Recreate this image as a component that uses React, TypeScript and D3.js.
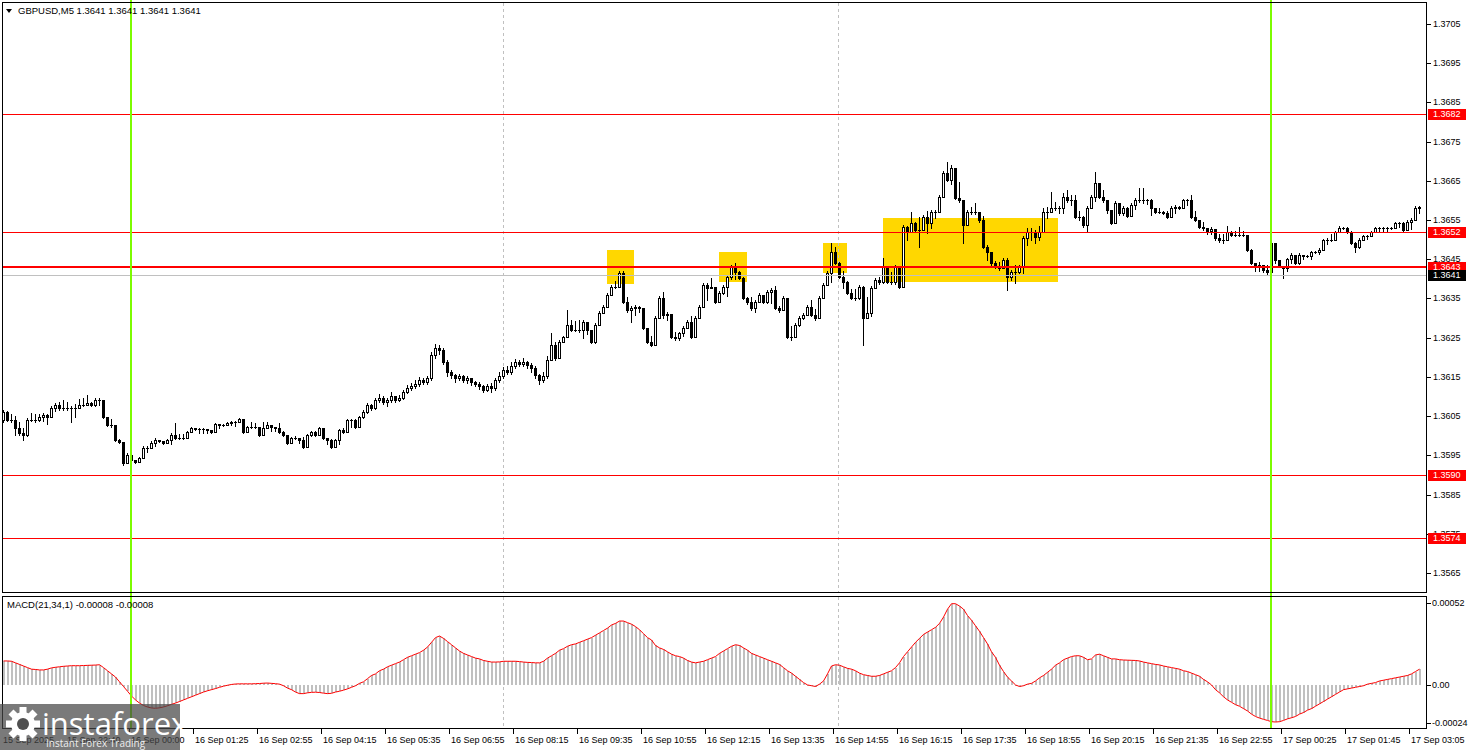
import React from 'react';
import * as d3 from 'd3';

const W = 1468, H = 750;
const FONT = "'Liberation Sans', Arial, sans-serif";

const firstOpen = 1.36040;
const closes = [
1.36060,1.36040,1.36040,1.36020,1.36007,1.36002,1.36040,1.36040,1.36040,1.36048,
1.36053,1.36048,1.36071,1.36078,1.36071,1.36071,1.36071,1.36071,1.36071,1.36078,
1.36078,1.36083,1.36078,1.36091,1.36091,1.36048,1.36027,1.36027,1.35989,1.35984,
1.35930,1.35951,1.35938,1.35933,1.35943,1.35969,1.35969,1.35981,1.35989,1.35986,
1.35981,1.35989,1.36002,1.35994,1.35994,1.35994,1.36009,1.36020,1.36017,1.36017,
1.36017,1.36014,1.36009,1.36030,1.36027,1.36027,1.36032,1.36035,1.36035,1.36043,
1.36009,1.36022,1.36022,1.36022,1.36002,1.36020,1.36027,1.36022,1.36020,1.36009,
1.36002,1.35981,1.35994,1.35994,1.35989,1.35971,1.36002,1.36009,1.36002,1.36020,
1.35994,1.35989,1.35971,1.35989,1.36014,1.36009,1.36040,1.36040,1.36022,1.36048,
1.36060,1.36078,1.36071,1.36091,1.36096,1.36086,1.36091,1.36101,1.36091,1.36096,
1.36111,1.36122,1.36127,1.36132,1.36142,1.36137,1.36147,1.36206,1.36224,1.36219,
1.36188,1.36162,1.36155,1.36147,1.36152,1.36142,1.36147,1.36137,1.36132,1.36127,
1.36117,1.36127,1.36122,1.36142,1.36152,1.36168,1.36162,1.36178,1.36188,1.36183,
1.36188,1.36180,1.36173,1.36155,1.36142,1.36152,1.36193,1.36231,1.36198,1.36239,
1.36252,1.36282,1.36270,1.36270,1.36270,1.36290,1.36270,1.36239,1.36282,1.36313,
1.36328,1.36359,1.36379,1.36379,1.36415,1.36341,1.36321,1.36326,1.36328,1.36326,
1.36275,1.36239,1.36231,1.36300,1.36351,1.36308,1.36310,1.36252,1.36249,1.36262,
1.36275,1.36290,1.36252,1.36300,1.36328,1.36384,1.36377,1.36379,1.36341,1.36364,
1.36379,1.36405,1.36430,1.36417,1.36402,1.36351,1.36341,1.36326,1.36341,1.36359,
1.36341,1.36366,1.36372,1.36326,1.36321,1.36351,1.36252,1.36252,1.36282,1.36300,
1.36308,1.36328,1.36308,1.36300,1.36351,1.36384,1.36415,1.36468,1.36440,1.36405,
1.36392,1.36364,1.36351,1.36351,1.36379,1.36300,1.36313,1.36377,1.36397,1.36392,
1.36430,1.36392,1.36392,1.36430,1.36379,1.36532,1.36519,1.36542,1.36524,1.36524,
1.36558,1.36542,1.36570,1.36570,1.36609,1.36670,1.36652,1.36683,1.36606,1.36601,
1.36537,1.36570,1.36570,1.36570,1.36550,1.36481,1.36468,1.36440,1.36430,1.36428,
1.36448,1.36405,1.36417,1.36417,1.36430,1.36504,1.36519,1.36519,1.36507,1.36519,
1.36570,1.36570,1.36580,1.36580,1.36580,1.36609,1.36601,1.36601,1.36558,1.36558,
1.36537,1.36580,1.36609,1.36644,1.36609,1.36601,1.36575,1.36542,1.36593,1.36568,
1.36580,1.36560,1.36588,1.36601,1.36601,1.36601,1.36601,1.36580,1.36570,1.36570,
1.36568,1.36558,1.36580,1.36583,1.36580,1.36601,1.36601,1.36558,1.36550,1.36532,
1.36529,1.36522,1.36527,1.36504,1.36499,1.36499,1.36519,1.36512,1.36512,1.36512,
1.36512,1.36473,1.36440,1.36433,1.36435,1.36422,1.36417,1.36491,1.36448,1.36433,
1.36428,1.36451,1.36461,1.36440,1.36461,1.36458,1.36458,1.36468,1.36468,1.36473,
1.36499,1.36499,1.36499,1.36519,1.36529,1.36529,1.36519,1.36491,1.36481,1.36499,
1.36509,1.36509,1.36519,1.36529,1.36529,1.36529,1.36529,1.36529,1.36542,1.36542,
1.36524,1.36545,1.36550,1.36580,1.36583
];
const highs = [
1.36066,1.36063,1.36055,1.36050,1.36035,1.36020,1.36045,1.36058,1.36055,1.36055,
1.36058,1.36055,1.36076,1.36083,1.36086,1.36091,1.36086,1.36076,1.36081,1.36094,
1.36096,1.36104,1.36086,1.36096,1.36096,1.36091,1.36045,1.36043,1.36022,1.35992,
1.35984,1.35956,1.35964,1.35935,1.35946,1.35974,1.35974,1.35986,1.35994,1.35989,
1.35984,1.35992,1.36007,1.36032,1.36004,1.36004,1.36012,1.36022,1.36020,1.36020,
1.36020,1.36017,1.36012,1.36032,1.36030,1.36030,1.36035,1.36037,1.36037,1.36045,
1.36022,1.36025,1.36035,1.36032,1.36012,1.36035,1.36035,1.36025,1.36022,1.36032,
1.36012,1.35997,1.35997,1.35999,1.35992,1.35997,1.36004,1.36012,1.36012,1.36022,
1.36012,1.35992,1.35992,1.35992,1.36017,1.36020,1.36043,1.36043,1.36043,1.36050,
1.36066,1.36083,1.36081,1.36096,1.36106,1.36101,1.36096,1.36111,1.36101,1.36104,
1.36117,1.36129,1.36134,1.36142,1.36150,1.36147,1.36152,1.36213,1.36234,1.36231,
1.36224,1.36193,1.36168,1.36157,1.36157,1.36155,1.36152,1.36147,1.36139,1.36137,
1.36129,1.36132,1.36134,1.36147,1.36162,1.36175,1.36178,1.36188,1.36196,1.36193,
1.36198,1.36190,1.36185,1.36178,1.36157,1.36162,1.36203,1.36262,1.36239,1.36244,
1.36254,1.36321,1.36295,1.36292,1.36295,1.36295,1.36285,1.36264,1.36287,1.36318,
1.36333,1.36364,1.36384,1.36394,1.36420,1.36420,1.36354,1.36331,1.36333,1.36331,
1.36318,1.36264,1.36254,1.36305,1.36356,1.36366,1.36315,1.36295,1.36264,1.36264,
1.36280,1.36295,1.36305,1.36305,1.36333,1.36389,1.36389,1.36402,1.36374,1.36369,
1.36384,1.36410,1.36435,1.36440,1.36420,1.36405,1.36354,1.36354,1.36346,1.36364,
1.36354,1.36372,1.36377,1.36382,1.36331,1.36356,1.36305,1.36280,1.36287,1.36305,
1.36313,1.36333,1.36346,1.36323,1.36356,1.36389,1.36420,1.36491,1.36481,1.36443,
1.36420,1.36394,1.36374,1.36374,1.36384,1.36382,1.36354,1.36382,1.36402,1.36405,
1.36453,1.36428,1.36417,1.36435,1.36428,1.36537,1.36535,1.36570,1.36545,1.36558,
1.36562,1.36573,1.36575,1.36575,1.36614,1.36675,1.36698,1.36690,1.36672,1.36647,
1.36591,1.36575,1.36583,1.36593,1.36565,1.36560,1.36486,1.36463,1.36445,1.36443,
1.36453,1.36453,1.36422,1.36435,1.36435,1.36509,1.36529,1.36529,1.36524,1.36535,
1.36580,1.36583,1.36621,1.36596,1.36586,1.36619,1.36626,1.36614,1.36614,1.36573,
1.36560,1.36586,1.36614,1.36672,1.36636,1.36626,1.36596,1.36573,1.36598,1.36586,
1.36586,1.36583,1.36593,1.36606,1.36632,1.36632,1.36603,1.36603,1.36578,1.36580,
1.36573,1.36573,1.36586,1.36588,1.36586,1.36603,1.36603,1.36614,1.36573,1.36545,
1.36545,1.36527,1.36532,1.36524,1.36514,1.36514,1.36535,1.36522,1.36522,1.36532,
1.36522,1.36499,1.36476,1.36440,1.36443,1.36435,1.36435,1.36494,1.36486,1.36435,
1.36433,1.36453,1.36466,1.36458,1.36466,1.36461,1.36461,1.36471,1.36471,1.36479,
1.36501,1.36504,1.36514,1.36522,1.36535,1.36532,1.36532,1.36522,1.36494,1.36504,
1.36512,1.36512,1.36522,1.36532,1.36532,1.36532,1.36532,1.36532,1.36545,1.36545,
1.36545,1.36550,1.36555,1.36586,1.36586
];
const lows = [
1.36035,1.36037,1.36035,1.36002,1.36002,1.35989,1.35999,1.36037,1.36035,1.36037,
1.36037,1.36030,1.36055,1.36063,1.36066,1.36066,1.36066,1.36035,1.36048,1.36076,
1.36076,1.36078,1.36076,1.36076,1.36078,1.36045,1.36025,1.36022,1.35986,1.35981,
1.35925,1.35933,1.35933,1.35930,1.35941,1.35948,1.35958,1.35969,1.35974,1.35984,
1.35979,1.35986,1.35979,1.35992,1.35992,1.35992,1.36004,1.36017,1.36014,1.36007,
1.36007,1.36007,1.36007,1.36020,1.36020,1.36025,1.36030,1.36027,1.36025,1.36040,
1.36007,1.36020,1.36020,1.36020,1.35999,1.36007,1.36020,1.36012,1.36012,1.36007,
1.35999,1.35979,1.35992,1.35992,1.35981,1.35969,1.35979,1.35999,1.35999,1.36009,
1.35992,1.35979,1.35969,1.35979,1.35979,1.36007,1.36022,1.36022,1.36020,1.36037,
1.36045,1.36058,1.36066,1.36068,1.36086,1.36081,1.36076,1.36086,1.36086,1.36088,
1.36094,1.36109,1.36117,1.36122,1.36127,1.36132,1.36132,1.36142,1.36198,1.36208,
1.36183,1.36152,1.36147,1.36137,1.36142,1.36137,1.36134,1.36129,1.36127,1.36119,
1.36111,1.36114,1.36111,1.36117,1.36137,1.36147,1.36157,1.36157,1.36173,1.36178,
1.36178,1.36173,1.36162,1.36147,1.36132,1.36137,1.36147,1.36198,1.36193,1.36206,
1.36244,1.36259,1.36267,1.36267,1.36264,1.36249,1.36259,1.36236,1.36236,1.36282,
1.36313,1.36333,1.36366,1.36377,1.36387,1.36338,1.36315,1.36290,1.36308,1.36315,
1.36272,1.36236,1.36229,1.36231,1.36300,1.36300,1.36295,1.36249,1.36244,1.36244,
1.36254,1.36280,1.36249,1.36280,1.36308,1.36336,1.36346,1.36377,1.36338,1.36346,
1.36361,1.36356,1.36400,1.36400,1.36400,1.36349,1.36336,1.36321,1.36315,1.36346,
1.36338,1.36338,1.36338,1.36323,1.36315,1.36331,1.36249,1.36244,1.36254,1.36280,
1.36298,1.36308,1.36305,1.36295,1.36300,1.36356,1.36387,1.36392,1.36438,1.36402,
1.36377,1.36361,1.36349,1.36346,1.36349,1.36231,1.36305,1.36305,1.36379,1.36387,
1.36389,1.36389,1.36387,1.36387,1.36377,1.36422,1.36499,1.36529,1.36522,1.36481,
1.36529,1.36517,1.36529,1.36555,1.36575,1.36619,1.36649,1.36642,1.36603,1.36596,
1.36491,1.36550,1.36565,1.36565,1.36545,1.36479,1.36448,1.36435,1.36428,1.36422,
1.36435,1.36372,1.36397,1.36389,1.36415,1.36415,1.36486,1.36499,1.36491,1.36499,
1.36524,1.36555,1.36570,1.36575,1.36568,1.36568,1.36596,1.36588,1.36555,1.36550,
1.36532,1.36522,1.36583,1.36598,1.36606,1.36596,1.36568,1.36540,1.36562,1.36562,
1.36562,1.36558,1.36565,1.36578,1.36596,1.36593,1.36591,1.36562,1.36568,1.36568,
1.36565,1.36555,1.36560,1.36568,1.36578,1.36588,1.36588,1.36555,1.36547,1.36529,
1.36524,1.36514,1.36514,1.36499,1.36494,1.36491,1.36509,1.36509,1.36509,1.36509,
1.36509,1.36471,1.36438,1.36420,1.36420,1.36417,1.36410,1.36417,1.36440,1.36430,
1.36402,1.36420,1.36440,1.36438,1.36438,1.36451,1.36456,1.36451,1.36466,1.36463,
1.36486,1.36489,1.36496,1.36509,1.36524,1.36527,1.36517,1.36489,1.36468,1.36479,
1.36501,1.36501,1.36509,1.36522,1.36522,1.36522,1.36522,1.36527,1.36532,1.36532,
1.36522,1.36527,1.36527,1.36565,1.36568
];
const macd = [
15.2e-5,15.2e-5,15e-5,14e-5,13e-5,12e-5,11e-5,10e-5,9.8e-5,9.5e-5,
9.5e-5,10e-5,10.8e-5,11.2e-5,11.5e-5,11.8e-5,12e-5,12.2e-5,12.2e-5,12.2e-5,
12.3e-5,12.4e-5,12.5e-5,12.6e-5,12.8e-5,11e-5,9e-5,7e-5,5e-5,2e-5,
-1e-5,-4e-5,-7e-5,-9.5e-5,-11.5e-5,-13e-5,-14e-5,-14.6e-5,-14.8e-5,-14.5e-5,
-14e-5,-13.2e-5,-12.3e-5,-11.5e-5,-10.5e-5,-9.5e-5,-8.5e-5,-7.5e-5,-6.5e-5,-5.5e-5,
-4.5e-5,-3.7e-5,-3e-5,-2.3e-5,-1.5e-5,-0.8e-5,-0.2e-5,0.3e-5,0.6e-5,0.7e-5,
0.7e-5,0.7e-5,0.7e-5,0.8e-5,0.9e-5,1.1e-5,1.2e-5,1e-5,0.8e-5,0.5e-5,
-0.5e-5,-2e-5,-3e-5,-4.5e-5,-5.5e-5,-5.5e-5,-5e-5,-4.7e-5,-4.6e-5,-4.8e-5,
-5.2e-5,-5.5e-5,-5.3e-5,-4.5e-5,-4e-5,-3.3e-5,-2.5e-5,-1.5e-5,-0.5e-5,1e-5,
2e-5,4e-5,6e-5,7e-5,9e-5,10e-5,11.5e-5,12.5e-5,13.5e-5,14.5e-5,
16e-5,17.5e-5,18.5e-5,19.5e-5,20.5e-5,22e-5,24e-5,27e-5,30e-5,31e-5,
29.5e-5,27.5e-5,25.5e-5,23.5e-5,21.5e-5,20e-5,19e-5,18e-5,17e-5,16.5e-5,
15.5e-5,15e-5,14.5e-5,14.5e-5,14.6e-5,15e-5,15e-5,15e-5,15e-5,14.8e-5,
14.5e-5,14.3e-5,14.2e-5,14e-5,14e-5,15e-5,17e-5,18.5e-5,20e-5,22e-5,
23e-5,24.5e-5,25.5e-5,26e-5,27e-5,28e-5,29e-5,30e-5,31.5e-5,33e-5,
34.5e-5,36e-5,38e-5,39e-5,40.5e-5,40.5e-5,39.5e-5,38.5e-5,37e-5,35e-5,
32.5e-5,30e-5,28.5e-5,25e-5,23.5e-5,22.5e-5,21e-5,19.5e-5,18.5e-5,18e-5,
17e-5,15.5e-5,14.5e-5,14e-5,14.5e-5,15e-5,16e-5,17e-5,18e-5,20e-5,
21.5e-5,23e-5,24.5e-5,25.5e-5,25e-5,23.5e-5,22e-5,20e-5,19e-5,18e-5,
17e-5,16e-5,15e-5,14e-5,13e-5,11e-5,9e-5,7.5e-5,5.5e-5,3.5e-5,
1.5e-5,0,-0.5e-5,-1e-5,0.5e-5,2.5e-5,7e-5,12e-5,12.8e-5,12.5e-5,
11.5e-5,10.5e-5,10e-5,9e-5,7.5e-5,6.5e-5,6e-5,5.5e-5,5.5e-5,6e-5,
7e-5,8e-5,9e-5,11e-5,14e-5,18e-5,21e-5,24e-5,27e-5,29.5e-5,
32e-5,33.5e-5,35e-5,36.5e-5,39e-5,43e-5,48e-5,51.5e-5,51.5e-5,50e-5,
48e-5,44e-5,41e-5,37.5e-5,34e-5,30e-5,26e-5,21e-5,17.5e-5,12.5e-5,
8.5e-5,5e-5,2.5e-5,0,-1e-5,-0.5e-5,0.5e-5,1e-5,2.5e-5,4.5e-5,
6e-5,8e-5,10e-5,12.5e-5,14e-5,16e-5,17e-5,18e-5,18.5e-5,18.5e-5,
17.5e-5,16e-5,16.5e-5,19e-5,19.5e-5,18.5e-5,17.5e-5,16.5e-5,16.5e-5,16e-5,
15.8e-5,15.7e-5,15.6e-5,15.5e-5,15.2e-5,14.5e-5,14e-5,13.5e-5,13e-5,12.7e-5,
12e-5,11.5e-5,11e-5,10.5e-5,10e-5,9e-5,8.5e-5,7.5e-5,6.5e-5,5.5e-5,
3.5e-5,2e-5,0,-3e-5,-5e-5,-7.5e-5,-9.5e-5,-11e-5,-12.5e-5,-13.5e-5,
-15e-5,-16.5e-5,-18.5e-5,-20e-5,-21e-5,-21.8e-5,-22.5e-5,-23.3e-5,-23.5e-5,-23.3e-5,
-22.5e-5,-21.5e-5,-20.8e-5,-20e-5,-18.5e-5,-17.5e-5,-16e-5,-15e-5,-13.5e-5,-12e-5,
-10.5e-5,-9e-5,-7.5e-5,-6e-5,-4.5e-5,-3e-5,-2.5e-5,-2e-5,-1.5e-5,-1e-5,
-0.5e-5,0.5e-5,1e-5,1.5e-5,2.5e-5,3e-5,3.5e-5,4e-5,4.5e-5,5e-5,
5.5e-5,6e-5,7e-5,8.5e-5,10e-5
];

const priceTicks = [1.3705,1.3695,1.3685,1.3675,1.3665,1.3655,1.3645,1.3635,1.3625,1.3615,1.3605,1.3595,1.3585,1.3575,1.3565];
const macdTicks = [0.00052, 0, -0.00024];
const macdTickText = ['0.00052', '0.00', '-0.00024'];
const timeLabels = ['15 Sep 22:40','16 Sep 00:00','16 Sep 01:25','16 Sep 02:55','16 Sep 04:15','16 Sep 05:35','16 Sep 06:55','16 Sep 08:15','16 Sep 09:35','16 Sep 10:55','16 Sep 12:15','16 Sep 13:35','16 Sep 14:55','16 Sep 16:15','16 Sep 17:35','16 Sep 18:55','16 Sep 20:15','16 Sep 21:35','16 Sep 22:55','17 Sep 00:25','17 Sep 01:45','17 Sep 03:05'];
const timeLabelBars = timeLabels.map((_, k) => 15.5 + 16 * k);

const levelPrices = [1.3682, 1.3652, 1.3643, 1.3590, 1.3574];
const levelWidths = [1, 1, 2, 1, 1];
const bidPrice = 1.3641;
const greenBars = [32, 317];
const dashedBars = [125, 208.75];
const boxStart = [151, 179, 205, 220];
const boxEnd = [157.75, 186, 211, 263.75];
const boxTop = [1.36474, 1.36468, 1.36491, 1.36555];
const boxBottom = [1.36387, 1.36392, 1.36415, 1.36392];

export default function App() {
  const n = closes.length;
  const x = d3.scaleLinear().domain([0, n - 1]).range([3, 3 + 4 * (n - 1)]);
  const yP = d3.scaleLinear().domain([1.35599, 1.37106]).range([593, 2]);
  const yM = d3.scaleLinear().domain([-0.00024, 0.00052]).range([722.8, 602.9]);
  const opens = closes.map((c, i) => (i === 0 ? firstOpen : closes[i - 1]));
  const zeroY = Math.round(yM(0));
  const macdLine = d3.line<number>().x((_, i) => Math.round(x(i)) + 0.5).y(v => yM(v))(macd) || '';
  const plotR = 1426.5;

  const labelBox = (p: number, bg: string, key: string) => {
    const yy = Math.round(yP(p));
    return (
      <g key={key}>
        <rect x={1428} y={yy - 5} width={38} height={11} fill={bg} />
        <text x={1433} y={yy} dy="0.35em" fontSize={9} fontFamily={FONT} fill="#fff">{p.toFixed(4)}</text>
      </g>
    );
  };

  return (
    <div style={{ position: 'absolute', left: 0, top: 0 }}>
      <svg width={W} height={H} style={{ display: 'block', background: '#fff' }}>
        <rect x={0} y={0} width={W} height={H} fill="#fff" />
        {boxStart.map((b, k) => (
          <rect key={'bx' + k} x={Math.round(x(b))} y={Math.round(yP(boxTop[k]))}
            width={Math.round(x(boxEnd[k]) - x(b))} height={Math.round(yP(boxBottom[k]) - yP(boxTop[k]))}
            fill="#FFD700" shapeRendering="crispEdges" />
        ))}
        {dashedBars.map((b, k) => (
          <g key={'ds' + k}>
            <line x1={Math.round(x(b)) + 0.5} x2={Math.round(x(b)) + 0.5} y1={3} y2={592} stroke="#c0c0c0" strokeDasharray="3,3" />
            <line x1={Math.round(x(b)) + 0.5} x2={Math.round(x(b)) + 0.5} y1={597} y2={728} stroke="#c0c0c0" strokeDasharray="3,3" />
          </g>
        ))}
        <g shapeRendering="crispEdges">
          {closes.map((c, i) => {
            const o = opens[i];
            const cx = Math.round(x(i));
            const yo = Math.round(yP(o)), yc = Math.round(yP(c));
            const top = Math.min(yo, yc), bot = Math.max(yo, yc);
            const yh = Math.min(Math.round(yP(highs[i])), top);
            const yl = Math.max(Math.round(yP(lows[i])), bot);
            const up = c > o;
            let body;
            if (bot - top < 1) body = <rect x={cx - 1} y={top} width={3} height={1} fill="#000" />;
            else if (up) body = <rect x={cx - 0.5} y={top + 0.5} width={2} height={bot - top} fill="#fff" stroke="#000" strokeWidth={1} />;
            else body = <rect x={cx - 1} y={top} width={3} height={bot - top + 1} fill="#000" />;
            return (
              <g key={'c' + i}>
                <rect x={cx} y={yh} width={1} height={yl - yh + 1} fill="#000" />
                {body}
              </g>
            );
          })}
        </g>
        <line x1={3} x2={plotR} y1={Math.round(yP(bidPrice)) + 0.5} y2={Math.round(yP(bidPrice)) + 0.5} stroke="#c0c0c0" />
        {levelPrices.map((p, k) => (
          <rect key={'lv' + k} x={3} width={plotR - 3} y={Math.round(yP(p)) - (levelWidths[k] > 1 ? 1 : 0)} height={levelWidths[k]} fill="#ff0000" shapeRendering="crispEdges" />
        ))}
        <g shapeRendering="crispEdges">
          {macd.map((v, i) => {
            const yy = Math.round(yM(v));
            return <rect key={'h' + i} x={Math.round(x(i))} y={Math.min(yy, zeroY)} width={2} height={Math.max(1, Math.abs(yy - zeroY))} fill="#c0c0c0" />;
          })}
        </g>
        <path d={macdLine} fill="none" stroke="#ff0000" strokeWidth={1} />
        {greenBars.map((b, k) => (
          <rect key={'g' + k} x={Math.round(x(b)) - 1} y={0} width={2} height={729} fill="#7CFC00" />
        ))}
        <g fill="none" stroke="#000" shapeRendering="crispEdges">
          <rect x={2.5} y={2.5} width={plotR - 2.5} height={590} />
          <rect x={2.5} y={596.5} width={plotR - 2.5} height={132} />
        </g>
        {priceTicks.map((p, k) => {
          const yy = Math.round(yP(p));
          return (
            <g key={'pt' + k}>
              <line x1={1427} x2={1431} y1={yy + 0.5} y2={yy + 0.5} stroke="#000" />
              <text x={1433} y={yy} dy="0.35em" fontSize={9} fontFamily={FONT} fill="#000">{p.toFixed(4)}</text>
            </g>
          );
        })}
        {levelPrices.map((p, k) => labelBox(p, '#ff0000', 'lb' + k))}
        {labelBox(bidPrice, '#000', 'bid')}
        {macdTicks.map((v, k) => {
          const yy = Math.round(yM(v));
          return (
            <g key={'mt' + k}>
              <line x1={1427} x2={1431} y1={yy + 0.5} y2={yy + 0.5} stroke="#000" />
              <text x={1432} y={yy} dy="0.35em" fontSize={9} fontFamily={FONT} fill="#000">{macdTickText[k]}</text>
            </g>
          );
        })}
        <text x={3} y={743} fontSize={9} fontFamily={FONT} fill="#000">15 Sep 2025</text>
        {timeLabelBars.map((b, k) => {
          const xx = Math.round(x(b));
          return (
            <g key={'tl' + k}>
              <line x1={xx + 0.5} x2={xx + 0.5} y1={729} y2={734} stroke="#000" />
              <text x={xx + 2} y={743} fontSize={9} fontFamily={FONT} fill="#000">{timeLabels[k]}</text>
            </g>
          );
        })}
        <path d="M6,9 L12,9 L9,13 Z" fill="#000" />
        <text x={18} y={14} fontSize={9.5} fontFamily={FONT} fill="#000">GBPUSD,M5  1.3641 1.3641 1.3641 1.3641</text>
        <text x={7} y={608} fontSize={9.5} fontFamily={FONT} fill="#000">MACD(21,34,1) -0.00008 -0.00008</text>
        <g>
          <rect x={0} y={704} width={180} height={46} fill="rgba(70,70,70,0.72)" />
          <g transform="translate(23,724)" fill="#fff">
            {d3.range(8).map(k => (
              <rect key={'gt' + k} x={-3.5} y={-17} width={7} height={9} transform={`rotate(${k * 45})`} />
            ))}
            <circle r={12} fill="#fff" />
            <circle r={6} fill="rgb(80,80,80)" />
          </g>
          <text x={42} y={735} fontSize={31} fontFamily="'Open Sans', 'DejaVu Sans', sans-serif" fill="#fff">instaforex</text>
          <text x={46} y={747} fontSize={10} fontFamily="'Open Sans', 'DejaVu Sans', sans-serif" fill="#eee">Instant Forex Trading</text>
        </g>
      </svg>
    </div>
  );
}
